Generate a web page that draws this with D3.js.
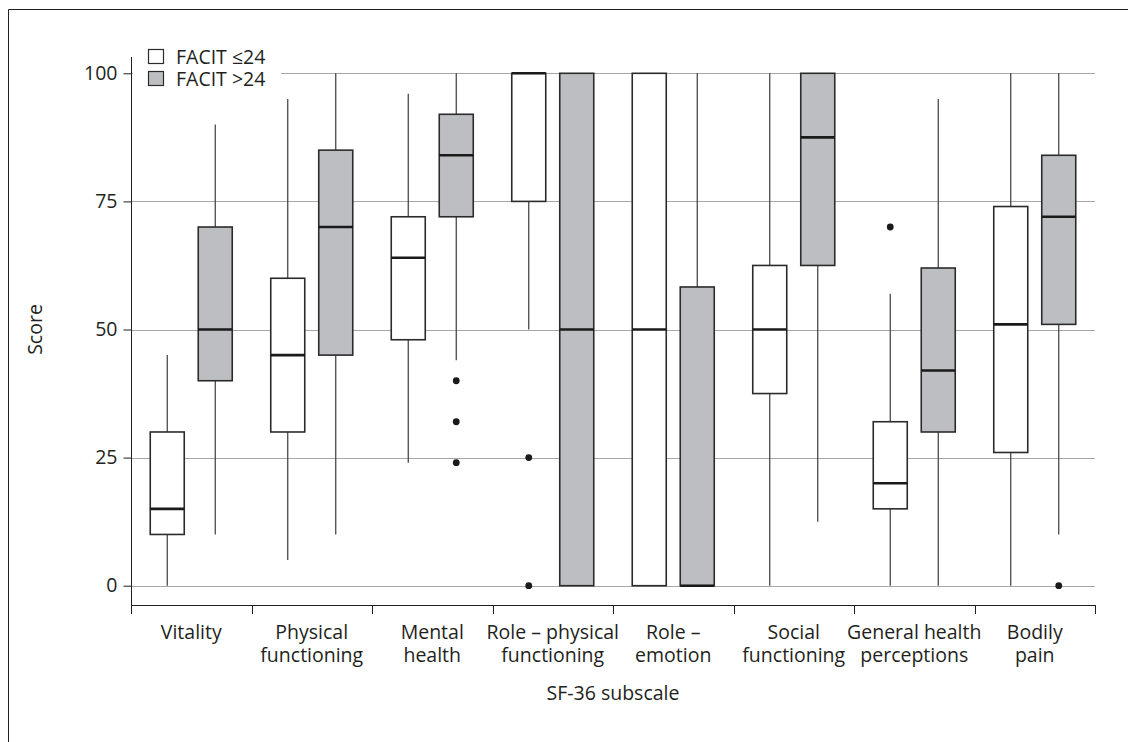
<!DOCTYPE html>
<html>
<head>
<meta charset="utf-8">
<script src="https://cdn.jsdelivr.net/npm/d3@7"></script>
<style>
  html, body { margin: 0; padding: 0; background: #fff; }
  svg { display: block; }
  text { font-family: "Open Sans", "Noto Sans", sans-serif; fill: #231f20; }
</style>
</head>
<body>
<svg id="chart" width="1128" height="742"></svg>
<script>
// ---- Data ----
const categories = ["Vitality", "Physical functioning", "Mental health", "Role – physical functioning",
  "Role – emotion", "Social functioning", "General health perceptions", "Bodily pain"];
const categoryLines = [["Vitality"], ["Physical", "functioning"], ["Mental", "health"],
  ["Role – physical", "functioning"], ["Role –", "emotion"], ["Social", "functioning"],
  ["General health", "perceptions"], ["Bodily", "pain"]];
const seriesNames = ["FACIT ≤24", "FACIT >24"];
// [whisker low, Q1, median, Q3, whisker high]
const lowFacit = [
  [0, 10, 15, 30, 45],
  [5, 30, 45, 60, 95],
  [24, 48, 64, 72, 96],
  [50, 75, 100, 100, 100],
  [0, 0, 50, 100, 100],
  [0, 37.5, 50, 62.5, 100],
  [0, 15, 20, 32, 57],
  [0, 26, 51, 74, 100]
];
const highFacit = [
  [10, 40, 50, 70, 90],
  [10, 45, 70, 85, 100],
  [44, 72, 84, 92, 100],
  [0, 0, 50, 100, 100],
  [0, 0, 0, 58.3, 100],
  [12.5, 62.5, 87.5, 100, 100],
  [0, 30, 42, 62, 95],
  [10, 51, 72, 84, 100]
];
const lowOutliers = [[], [], [], [25, 0], [], [], [70], []];
const highOutliers = [[], [], [40, 32, 24], [], [], [], [], [0]];
const yTicks = [0, 25, 50, 75, 100];
const yTitle = "Score";
const xTitle = "SF-36 subscale";

// ---- Layout ----
const svg = d3.select("#chart");
const plotLeft = 131, plotRight = 1095, plotTop = 73.3, zeroY = 585.7;
const axisY = 605;
const fills = ["#ffffff", "#bdbec2"];
const boxW = 34, offset = 24;
const fontSize = "19.5px";

// outer frame
svg.append("path").attr("d", "M8.5,742 L8.5,9.5 L1128,9.5")
  .attr("fill", "none").attr("stroke", "#231f20").attr("stroke-width", 1);

const x = d3.scaleBand().domain(categories).range([plotLeft, plotRight]).padding(0);
const y = d3.scaleLinear().domain([0, 100]).range([zeroY, plotTop]);

// gridlines
svg.append("g").selectAll("line").data(yTicks).join("line")
  .attr("x1", plotLeft).attr("x2", plotRight)
  .attr("y1", d => Math.round(y(d)) + 0.5).attr("y2", d => Math.round(y(d)) + 0.5)
  .attr("stroke", "#a7a7a7").attr("stroke-width", 1);

// y axis
const yAxis = d3.axisLeft(y).tickValues(yTicks).tickSize(8).tickPadding(6);
const gy = svg.append("g").attr("transform", `translate(${plotLeft + 0.5},0)`).call(yAxis);
gy.select(".domain").remove();
gy.selectAll(".tick line").attr("stroke", "#231f20");
gy.selectAll(".tick text").style("font-size", fontSize).attr("fill", "#231f20")
  .style("font-family", '"Open Sans", sans-serif');
svg.append("line").attr("x1", plotLeft + 0.5).attr("x2", plotLeft + 0.5).attr("y1", 57).attr("y2", axisY)
  .attr("stroke", "#231f20").attr("stroke-width", 1);

// x axis
svg.append("line").attr("x1", plotLeft).attr("x2", plotRight).attr("y1", axisY + 0.5).attr("y2", axisY + 0.5)
  .attr("stroke", "#231f20");
const boundaries = categories.map(c => x(c)).concat([plotRight]);
svg.append("g").selectAll("line").data(boundaries).join("line")
  .attr("x1", d => Math.round(d) + 0.5).attr("x2", d => Math.round(d) + 0.5)
  .attr("y1", axisY).attr("y2", axisY + 9).attr("stroke", "#231f20");

// category labels
const lab = svg.append("g").selectAll("text").data(categories).join("text")
  .attr("x", d => x(d) + x.bandwidth() / 2)
  .attr("y", 639)
  .attr("text-anchor", "middle")
  .style("font-size", fontSize);
lab.each(function (d, i) {
  const t = d3.select(this);
  categoryLines[i].forEach((ln, j) => {
    t.append("tspan").attr("x", x(d) + x.bandwidth() / 2).attr("dy", j === 0 ? 0 : 23).text(ln);
  });
});

// axis titles
svg.append("text").attr("x", (plotLeft + plotRight) / 2).attr("y", 700).attr("text-anchor", "middle")
  .style("font-size", fontSize).text(xTitle);
svg.append("text").attr("transform", `translate(42,${y(50)}) rotate(-90)`)
  .attr("text-anchor", "middle").style("font-size", fontSize).text(yTitle);

// boxes
function drawBoxes(data, outliers, dx, fill) {
  const g = svg.append("g");
  data.forEach((s, i) => {
    const cx = x(categories[i]) + x.bandwidth() / 2 + dx;
    const [wl, q1, med, q3, wh] = s;
    if (wh > q3) g.append("line").attr("x1", cx).attr("x2", cx).attr("y1", y(q3)).attr("y2", y(wh))
      .attr("stroke", "#3a3a3a").attr("stroke-width", 1.2);
    if (wl < q1) g.append("line").attr("x1", cx).attr("x2", cx).attr("y1", y(q1)).attr("y2", y(wl))
      .attr("stroke", "#3a3a3a").attr("stroke-width", 1.2);
    g.append("rect").attr("x", cx - boxW / 2).attr("y", y(q3)).attr("width", boxW)
      .attr("height", Math.max(0.01, y(q1) - y(q3)))
      .attr("fill", fill).attr("stroke", "#2b2b2b").attr("stroke-width", 1.6);
    g.append("line").attr("x1", cx - boxW / 2).attr("x2", cx + boxW / 2).attr("y1", y(med)).attr("y2", y(med))
      .attr("stroke", "#1a1a1a").attr("stroke-width", 2.6);
    outliers[i].forEach(v => {
      g.append("circle").attr("cx", cx).attr("cy", y(v)).attr("r", 3.4).attr("fill", "#1a1a1a");
    });
  });
}
drawBoxes(lowFacit, lowOutliers, -offset, fills[0]);
drawBoxes(highFacit, highOutliers, offset, fills[1]);

// legend
const leg = svg.append("g");
leg.append("rect").attr("x", plotLeft + 2).attr("y", 44).attr("width", 148).attr("height", 48).attr("fill", "#fff");
seriesNames.forEach((n, i) => {
  const yy = 49 + i * 22;
  leg.append("rect").attr("x", 148.5).attr("y", yy + 0.5).attr("width", 15).attr("height", 14)
    .attr("fill", fills[i]).attr("stroke", "#2b2b2b").attr("stroke-width", 1.2);
  leg.append("text").attr("x", 176).attr("y", yy + 15).style("font-size", fontSize).text(n);
});
</script>
</body>
</html>
